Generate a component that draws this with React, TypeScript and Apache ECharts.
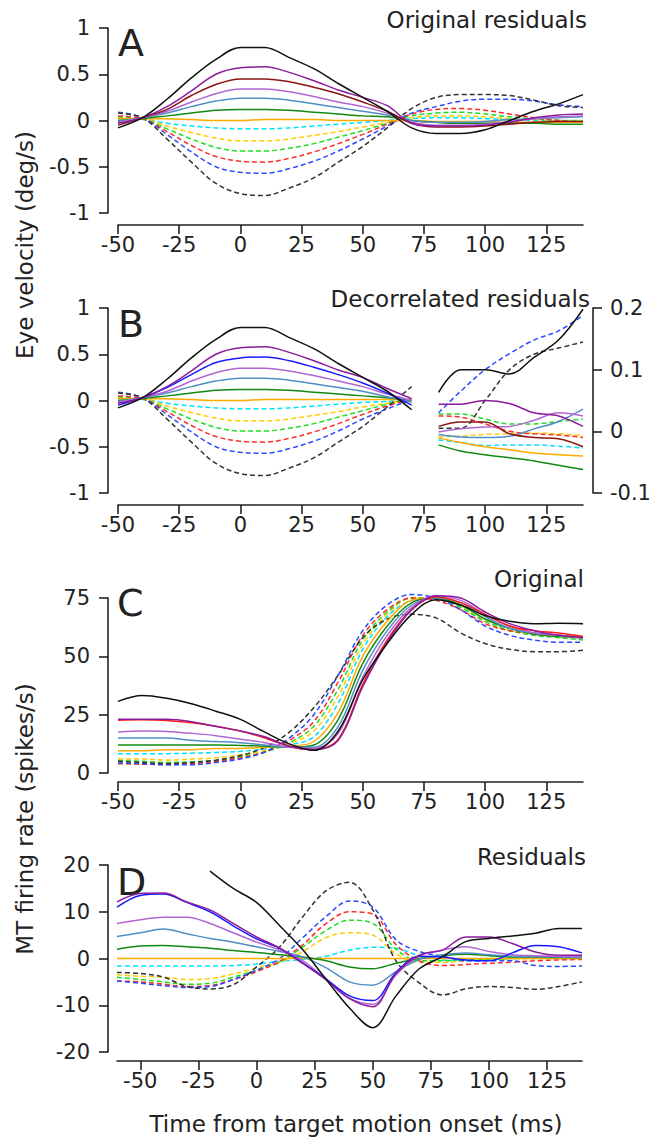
import React, { useEffect, useRef } from "react";
import * as echarts from "echarts";

const FONT = "DejaVu Sans";
const INK = "#222";

// ---------- time bases (ms) ----------
const T = [-50, -40, -30, -20, -10, 0, 10, 20, 30, 40, 50, 60, 70, 80, 90, 100, 110, 120, 130, 140];
const TB_L = [-50, -40, -30, -20, -10, 0, 10, 20, 30, 40, 50, 60, 70];
const TB_R = [81, 90, 100, 110, 120, 130, 140];
const TD = [-60, -50, -40, -30, -20, -10, 0, 10, 20, 30, 40, 50, 60, 70, 80, 90, 100, 110, 120, 130, 140];
const TD_BLACK = [-20, -10, 0, 10, 20, 30, 40, 50, 60, 70, 80, 90, 100, 110, 120, 130, 140];

const X_TICKS = [-50, -25, 0, 25, 50, 75, 100, 125];

// ---------- Panel A: original residuals (deg/s) ----------
const A_BLACK = [-0.08, 0.03, 0.23, 0.46, 0.66, 0.79, 0.79, 0.68, 0.56, 0.4, 0.25, 0.1, -0.08, -0.14, -0.14, -0.1, 0.0, 0.1, 0.18, 0.28];
const A_PURPLE = [-0.03, 0.03, 0.15, 0.32, 0.5, 0.57, 0.58, 0.52, 0.43, 0.33, 0.25, 0.16, -0.03, -0.06, -0.06, -0.05, -0.02, 0.03, 0.06, 0.07];
const A_MAROON = [-0.05, 0.03, 0.12, 0.27, 0.39, 0.45, 0.45, 0.42, 0.36, 0.29, 0.2, 0.1, -0.03, -0.07, -0.07, -0.06, -0.04, -0.02, -0.01, -0.01];
const A_LPURPLE = [-0.02, 0.03, 0.1, 0.2, 0.29, 0.34, 0.34, 0.31, 0.26, 0.2, 0.15, 0.08, -0.02, -0.05, -0.05, -0.04, -0.01, 0.02, 0.04, 0.05];
const A_STEEL = [-0.01, 0.03, 0.08, 0.15, 0.21, 0.24, 0.24, 0.22, 0.18, 0.14, 0.1, 0.06, 0.0, -0.02, -0.02, -0.01, 0.01, 0.02, 0.03, 0.04];
const A_GREEN = [0.0, 0.02, 0.05, 0.08, 0.11, 0.12, 0.12, 0.11, 0.09, 0.07, 0.05, 0.04, 0.0, -0.02, -0.03, -0.03, -0.03, -0.03, -0.04, -0.04];
const A_ORANGE = [0.02, 0.02, 0.02, 0.01, 0.0, 0.0, 0.01, 0.01, 0.01, 0.0, 0.0, 0.0, 0.0, -0.01, -0.01, -0.01, -0.02, -0.02, -0.02, -0.02];
const A_CYAN_D = [0.0, 0.01, -0.03, -0.06, -0.08, -0.09, -0.09, -0.08, -0.06, -0.04, -0.02, 0.0, 0.02, 0.03, 0.03, 0.02, 0.01, 0.0, 0.0, 0.0];
const A_GOLD_D = [0.03, 0.02, -0.06, -0.13, -0.19, -0.22, -0.22, -0.2, -0.16, -0.12, -0.07, -0.02, 0.03, 0.05, 0.05, 0.04, 0.02, 0.01, 0.0, 0.0];
const A_GREEN_D = [0.04, 0.02, -0.09, -0.2, -0.29, -0.33, -0.33, -0.3, -0.25, -0.18, -0.11, -0.03, 0.05, 0.08, 0.09, 0.07, 0.04, 0.02, 0.0, -0.01];
const A_RED_D = [0.05, 0.02, -0.12, -0.27, -0.39, -0.44, -0.45, -0.41, -0.34, -0.25, -0.15, -0.04, 0.07, 0.12, 0.13, 0.11, 0.07, 0.03, 0.0, -0.02];
const A_BLUE_D = [0.09, 0.03, -0.15, -0.34, -0.5, -0.56, -0.57, -0.52, -0.44, -0.33, -0.2, -0.06, 0.08, 0.15, 0.21, 0.23, 0.23, 0.21, 0.17, 0.15];
const A_BLACK_D = [0.08, 0.03, -0.2, -0.45, -0.68, -0.79, -0.81, -0.73, -0.62, -0.45, -0.28, -0.08, 0.13, 0.25, 0.28, 0.28, 0.27, 0.22, 0.16, 0.14];

// ---------- Panel B: decorrelated residuals (left part, deg/s) ----------
const B_BLACK = [-0.08, 0.03, 0.23, 0.46, 0.66, 0.79, 0.79, 0.68, 0.56, 0.4, 0.25, 0.1, -0.1];
const B_PURPLE = [-0.03, 0.03, 0.15, 0.32, 0.5, 0.57, 0.58, 0.52, 0.43, 0.33, 0.25, 0.13, 0.02];
const B_BLUE = [-0.05, 0.03, 0.14, 0.28, 0.41, 0.46, 0.47, 0.43, 0.36, 0.28, 0.19, 0.08, -0.05];
const B_LPURPLE = [-0.02, 0.03, 0.1, 0.21, 0.3, 0.35, 0.35, 0.32, 0.27, 0.21, 0.15, 0.07, 0.0];
const B_STEEL = [-0.01, 0.03, 0.08, 0.15, 0.21, 0.24, 0.24, 0.22, 0.18, 0.14, 0.1, 0.04, -0.02];
const B_GREEN = [0.0, 0.02, 0.05, 0.08, 0.11, 0.12, 0.12, 0.11, 0.09, 0.07, 0.05, 0.03, 0.0];
const B_ORANGE = [0.02, 0.02, 0.02, 0.01, 0.0, 0.0, 0.01, 0.01, 0.01, 0.01, 0.01, 0.01, 0.0];
const B_CYAN_D = [0.0, 0.01, -0.03, -0.06, -0.08, -0.09, -0.09, -0.08, -0.06, -0.04, -0.02, -0.01, 0.01];
const B_GOLD_D = [0.03, 0.02, -0.06, -0.13, -0.19, -0.22, -0.22, -0.2, -0.16, -0.12, -0.07, -0.03, 0.01];
const B_GREEN_D = [0.04, 0.02, -0.09, -0.2, -0.29, -0.33, -0.33, -0.3, -0.25, -0.18, -0.11, -0.04, 0.02];
const B_RED_D = [0.05, 0.02, -0.12, -0.27, -0.39, -0.44, -0.45, -0.41, -0.34, -0.25, -0.15, -0.06, 0.02];
const B_BLUE_D = [0.09, 0.03, -0.15, -0.34, -0.5, -0.56, -0.57, -0.52, -0.44, -0.33, -0.2, -0.09, 0.01];
const B_BLACK_D = [0.08, 0.03, -0.2, -0.45, -0.68, -0.79, -0.81, -0.73, -0.62, -0.45, -0.28, -0.07, 0.15];

// ---------- Panel B: right part (right axis, deg/s) ----------
const BR_BLACK = [0.063, 0.1, 0.1, 0.093, 0.12, 0.148, 0.198];
const BR_BLUE_D = [0.03, 0.065, 0.1, 0.126, 0.148, 0.163, 0.188];
const BR_BLACK_D = [0.005, 0.005, 0.05, 0.1, 0.125, 0.135, 0.145];
const BR_PURPLE = [0.044, 0.044, 0.05, 0.045, 0.03, 0.025, 0.008];
const BR_RED_D = [0.025, 0.023, 0.012, 0.0, -0.004, -0.006, -0.01];
const BR_GREEN_D = [0.028, 0.028, 0.02, 0.012, 0.012, 0.016, 0.02];
const BR_MAROON = [0.008, 0.015, 0.015, -0.004, -0.01, -0.012, -0.025];
const BR_LPURPLE = [-0.001, 0.004, 0.007, 0.008, 0.018, 0.03, 0.025];
const BR_STEEL = [-0.005, -0.009, -0.01, -0.008, 0.004, 0.016, 0.036];
const BR_GOLD_D = [-0.009, -0.008, -0.005, -0.004, -0.003, -0.004, -0.007];
const BR_CYAN_D = [-0.014, -0.018, -0.023, -0.022, -0.022, -0.024, -0.027];
const BR_ORANGE = [-0.011, -0.018, -0.025, -0.03, -0.035, -0.038, -0.04];
const BR_GREEN = [-0.022, -0.032, -0.038, -0.043, -0.048, -0.055, -0.062];

// ---------- Panel C: original firing rate (spikes/s) ----------
const C_BLACK = [30.7, 33.2, 32, 29.7, 26.5, 23, 17.5, 12.5, 9.7, 18, 40, 55.5, 68, 74.3, 72, 67.5, 65, 64, 64.2, 64];
const C_PURPLE = [23, 23, 23, 22, 20, 18, 15.5, 11.5, 10, 14, 37, 56, 70, 76, 75, 69, 64, 61, 59, 58];
const C_RED = [22.6, 22.8, 22.5, 21.5, 20, 18, 15, 11.5, 10, 14.5, 38, 57, 70, 75.5, 73, 68, 63, 61, 60, 58.5];
const C_LPURPLE = [17.6, 18, 17.8, 17, 16, 14.5, 13, 11, 10.5, 17, 41, 59, 71, 76, 74, 68, 63, 60, 59, 58];
const C_STEEL = [15, 15, 15, 14, 13.5, 13, 12, 11, 11, 20, 44, 61, 72, 75, 73, 67, 62, 60, 59, 58];
const C_GREEN = [12, 12, 12, 12, 12, 11.8, 11.5, 11, 12, 23, 47, 63, 73, 75, 72, 66, 62, 59.5, 58.5, 58];
const C_ORANGE = [9.5, 9.5, 10, 10, 10.5, 10.5, 11, 11.5, 13.5, 26, 50, 65, 74, 75, 72, 66, 62, 60, 59, 58.5];
const C_CYAN_D = [8.3, 8.3, 8.3, 8.5, 8.8, 9.3, 10.3, 12, 15.5, 30, 53, 67, 74, 75, 71, 65, 62, 60, 59, 58];
const C_GOLD_D = [6, 6, 5.5, 6, 6.5, 7.8, 9.5, 12.5, 18, 33, 55, 68, 75, 75, 71, 65, 61, 59.5, 58.5, 58];
const C_GREEN_D = [5.4, 5, 4.5, 4.8, 5.5, 7, 9, 13, 20, 36, 57, 69, 75, 75, 71, 65, 61, 59, 58, 57];
const C_RED_D = [4, 3.8, 3.6, 4, 5, 6.5, 9, 14, 22, 39, 59, 70, 75, 74, 70, 64, 61, 60, 59, 58];
const C_BLUE_D = [4.3, 4, 3.5, 3.5, 4.5, 6, 9, 15, 25, 42, 61, 72, 76.5, 75, 70, 63, 59, 57, 56, 56];
const C_BLACK_D = [5, 4.5, 4, 4.5, 5.5, 7.5, 11, 17.5, 28, 42, 58, 66, 68, 66.5, 60, 55.5, 53, 52, 52, 52.6];

// ---------- Panel D: firing-rate residuals (spikes/s) ----------
const D_BLACK = [18.7, 15, 12, 7, 1.8, -4.5, -10.6, -14.8, -8, -2.2, 0.4, 3.6, 4.3, 4.8, 5.4, 6.4, 6.4];
const D_PURPLE = [12.1, 13.9, 14, 12.1, 10.4, 7.5, 4.6, 2.2, -1.1, -4.6, -8.6, -10.3, -3.2, 0.7, 1.8, 4.6, 4.6, 3.2, 1.4, 0.7, 0.7];
const D_BLUE = [11, 13.5, 13.8, 12, 10, 7, 4.2, 2.2, -1, -4.4, -8, -9, -3, 0.5, 0.3, -0.3, -0.5, 1.2, 2.8, 2.5, 1.2];
const D_LPURPLE = [7.5, 8.3, 8.8, 8.8, 7.5, 5.5, 3.5, 1.8, -0.5, -4.5, -8.5, -9.8, -3.5, 0.5, 1.8, 2.5, 1.5, 0.8, 0.6, 0.5, 0.5];
const D_STEEL = [4.7, 5.5, 6.3, 5.3, 4.3, 3.5, 2.5, 1.5, 0.3, -2, -5, -5.7, -2.8, -0.2, 0.8, 1.2, 0.8, 0.5, 0.4, 0.3, 0.2];
const D_GREEN = [2, 2.7, 2.8, 2.5, 2.2, 1.7, 1.3, 0.8, 0.3, -0.5, -1.8, -2.2, -1, 0, 0.6, 0.9, 0.6, 0.3, 0.3, 0.2, 0.2];
const D_ORANGE = [0, 0, 0, 0, 0, 0, 0, 0, 0, 0, 0, 0, 0, 0, 0, 0, 0, 0, 0, 0, 0];
const D_CYAN_D = [-1.6, -1.6, -1.6, -1.6, -1.6, -1.5, -1.2, -0.6, -0.2, 0.5, 1.8, 2.4, 2.2, 0.6, -0.3, -0.5, -0.3, 0, 0, 0, 0];
const D_GOLD_D = [-3.5, -3.8, -4, -4.5, -4.3, -3.3, -2, -0.8, 1.5, 4.5, 5.5, 5, 1, -0.8, -0.8, -0.5, -0.2, 0, 0, 0, 0];
const D_GREEN_D = [-4, -4.5, -5, -5.5, -5.3, -4, -2.5, -0.8, 2.5, 6, 8.2, 7.5, 2, -0.5, -0.5, -0.2, -0.2, 0, 0.2, 0.2, 0.2];
const D_RED_D = [-4.8, -5, -5.5, -6, -5.8, -4.5, -2.8, -0.6, 3, 7.5, 10, 9.5, 3, -0.5, -1.5, -1.3, -1, -0.8, -0.5, -0.3, -0.2];
const D_BLUE_D = [-4.8, -5.3, -5.8, -6.2, -6, -4.5, -2.5, 0, 4.5, 9, 12.3, 11, 4, 1.5, 0.5, -0.5, -0.5, -0.5, -1.5, -1.7, -1.6];
const D_BLACK_D = [-3, -3.2, -4, -6, -6.5, -5.6, -1.8, 2.5, 9, 14.5, 16.3, 10.4, -0.5, -5.2, -7.8, -6.5, -6, -6.2, -6.6, -6, -5];

const COL = {
  black: "#111111",
  purple: "#8c1c9c",
  maroon: "#8b1515",
  blue: "#1a1aff",
  red: "#ff1a1a",
  lpurple: "#b266d6",
  steel: "#4f8fc4",
  green: "#128a12",
  orange: "#ffaa00",
  cyanD: "#00e0ff",
  goldD: "#ffcc00",
  greenD: "#22dd22",
  redD: "#ff2a2a",
  blueD: "#2a4aff",
  blackD: "#333333",
};

type S = [number[], number[], string, boolean];

function mk(xs: number[], ys: number[], color: string, dashed: boolean, xi: number, yi: number) {
  return {
    type: "line",
    xAxisIndex: xi,
    yAxisIndex: yi,
    data: xs.map((x, i) => [x, ys[i]]),
    showSymbol: false,
    symbol: "none",
    smooth: 0.35,
    clip: false,
    silent: true,
    lineStyle: { color, width: 1.5, type: dashed ? [5, 3] : "solid" },
  };
}

function group(list: S[], xi: number, yi: number) {
  return list.map(([xs, ys, c, d]) => mk(xs, ys, c, d, xi, yi));
}

const PANEL_A: S[] = [
  [T, A_CYAN_D, COL.cyanD, true],
  [T, A_GOLD_D, COL.goldD, true],
  [T, A_GREEN_D, COL.greenD, true],
  [T, A_RED_D, COL.redD, true],
  [T, A_BLUE_D, COL.blueD, true],
  [T, A_BLACK_D, COL.blackD, true],
  [T, A_ORANGE, COL.orange, false],
  [T, A_GREEN, COL.green, false],
  [T, A_STEEL, COL.steel, false],
  [T, A_LPURPLE, COL.lpurple, false],
  [T, A_MAROON, COL.maroon, false],
  [T, A_PURPLE, COL.purple, false],
  [T, A_BLACK, COL.black, false],
];

const PANEL_B_LEFT: S[] = [
  [TB_L, B_CYAN_D, COL.cyanD, true],
  [TB_L, B_GOLD_D, COL.goldD, true],
  [TB_L, B_GREEN_D, COL.greenD, true],
  [TB_L, B_RED_D, COL.redD, true],
  [TB_L, B_BLUE_D, COL.blueD, true],
  [TB_L, B_BLACK_D, COL.blackD, true],
  [TB_L, B_ORANGE, COL.orange, false],
  [TB_L, B_GREEN, COL.green, false],
  [TB_L, B_STEEL, COL.steel, false],
  [TB_L, B_LPURPLE, COL.lpurple, false],
  [TB_L, B_BLUE, COL.blue, false],
  [TB_L, B_PURPLE, COL.purple, false],
  [TB_L, B_BLACK, COL.black, false],
];

const PANEL_B_RIGHT: S[] = [
  [TB_R, BR_CYAN_D, COL.cyanD, true],
  [TB_R, BR_GOLD_D, COL.goldD, true],
  [TB_R, BR_GREEN_D, COL.greenD, true],
  [TB_R, BR_RED_D, COL.redD, true],
  [TB_R, BR_BLUE_D, COL.blueD, true],
  [TB_R, BR_BLACK_D, COL.blackD, true],
  [TB_R, BR_ORANGE, COL.orange, false],
  [TB_R, BR_GREEN, COL.green, false],
  [TB_R, BR_STEEL, COL.steel, false],
  [TB_R, BR_LPURPLE, COL.lpurple, false],
  [TB_R, BR_MAROON, COL.maroon, false],
  [TB_R, BR_PURPLE, COL.purple, false],
  [TB_R, BR_BLACK, COL.black, false],
];

const PANEL_C: S[] = [
  [T, C_CYAN_D, COL.cyanD, true],
  [T, C_GOLD_D, COL.goldD, true],
  [T, C_GREEN_D, COL.greenD, true],
  [T, C_RED_D, COL.redD, true],
  [T, C_BLUE_D, COL.blueD, true],
  [T, C_BLACK_D, COL.blackD, true],
  [T, C_ORANGE, COL.orange, false],
  [T, C_GREEN, COL.green, false],
  [T, C_STEEL, COL.steel, false],
  [T, C_LPURPLE, COL.lpurple, false],
  [T, C_RED, COL.red, false],
  [T, C_PURPLE, COL.purple, false],
  [T, C_BLACK, COL.black, false],
];

const PANEL_D: S[] = [
  [TD, D_CYAN_D, COL.cyanD, true],
  [TD, D_GOLD_D, COL.goldD, true],
  [TD, D_GREEN_D, COL.greenD, true],
  [TD, D_RED_D, COL.redD, true],
  [TD, D_BLUE_D, COL.blueD, true],
  [TD, D_BLACK_D, COL.blackD, true],
  [TD, D_ORANGE, COL.orange, false],
  [TD, D_GREEN, COL.green, false],
  [TD, D_STEEL, COL.steel, false],
  [TD, D_LPURPLE, COL.lpurple, false],
  [TD, D_BLUE, COL.blue, false],
  [TD, D_PURPLE, COL.purple, false],
  [TD_BLACK, D_BLACK, COL.black, false],
];

const axisLineStyle = { color: INK, width: 1.6 };
const labelStyle = { color: INK, fontSize: 21, fontFamily: FONT };

function xAxis(gridIndex: number, min: number, offset: number) {
  return {
    type: "value",
    gridIndex,
    min,
    max: 140,
    offset,
    axisLine: { show: true, onZero: false, lineStyle: axisLineStyle },
    axisTick: { show: true, length: 9, customValues: X_TICKS, lineStyle: axisLineStyle },
    axisLabel: { ...labelStyle, margin: 9, customValues: X_TICKS },
    splitLine: { show: false },
  };
}

function yAxis(gridIndex: number, min: number, max: number, interval: number, offset: number, position = "left") {
  return {
    type: "value",
    gridIndex,
    min,
    max,
    interval,
    offset,
    position,
    axisLine: { show: true, onZero: false, lineStyle: axisLineStyle },
    axisTick: { show: true, length: 9, lineStyle: axisLineStyle },
    axisLabel: { ...labelStyle, margin: position === "left" ? 18 : 17 },
    splitLine: { show: false },
  };
}

function txt(text: string, x: number, y: number, size: number, align: string, rotation = 0) {
  return {
    type: "text",
    x,
    y,
    rotation,
    silent: true,
    style: {
      text,
      font: `${size}px "${FONT}"`,
      fill: INK,
      align,
      verticalAlign: "middle",
      textAlign: align,
      textVerticalAlign: "middle",
    },
  };
}

export default function App() {
  const ref = useRef<HTMLDivElement>(null);

  useEffect(() => {
    if (!ref.current) return;
    const chart = echarts.init(ref.current, undefined, { renderer: "svg" });
    const option = {
      animation: false,
      backgroundColor: "#ffffff",
      grid: [
        { left: 118, top: 28, width: 465, height: 185 },
        { left: 118, top: 308, width: 465, height: 185 },
        { left: 118, top: 598, width: 465, height: 175 },
        { left: 117, top: 865, width: 465, height: 187 },
      ],
      xAxis: [xAxis(0, -50, 12), xAxis(1, -50, 12), xAxis(2, -50, 9), xAxis(3, -60, 9)],
      yAxis: [
        yAxis(0, -1, 1, 0.5, 10),
        yAxis(1, -1, 1, 0.5, 10),
        yAxis(1, -0.1, 0.2, 0.1, 10, "right"),
        yAxis(2, 0, 75, 25, 10),
        yAxis(3, -20, 20, 10, 9),
      ],
      series: [
        ...group(PANEL_A, 0, 0),
        ...group(PANEL_B_LEFT, 1, 1),
        ...group(PANEL_B_RIGHT, 1, 2),
        ...group(PANEL_C, 2, 3),
        ...group(PANEL_D, 3, 4),
      ],
      graphic: [
        txt("Original residuals", 587, 20, 23, "right"),
        txt("Decorrelated residuals", 590, 299, 23, "right"),
        txt("Original", 584, 579, 23, "right"),
        txt("Residuals", 586, 857, 23, "right"),
        txt("A", 118, 43, 38, "left"),
        txt("B", 118, 324, 38, "left"),
        txt("C", 117, 603, 38, "left"),
        txt("D", 117, 882, 38, "left"),
        txt("Eye velocity (deg/s)", 25, 245, 23, "center", Math.PI / 2),
        txt("MT firing rate (spikes/s)", 25, 819, 23, "center", Math.PI / 2),
        txt("Time from target motion onset (ms)", 356, 1124, 23, "center"),
      ],
    };
    chart.setOption(option as any);
    return () => chart.dispose();
  }, []);

  return (
    <div
      ref={ref}
      style={{ position: "absolute", left: 0, top: 0, width: 655, height: 1143, background: "#fff" }}
    />
  );
}
